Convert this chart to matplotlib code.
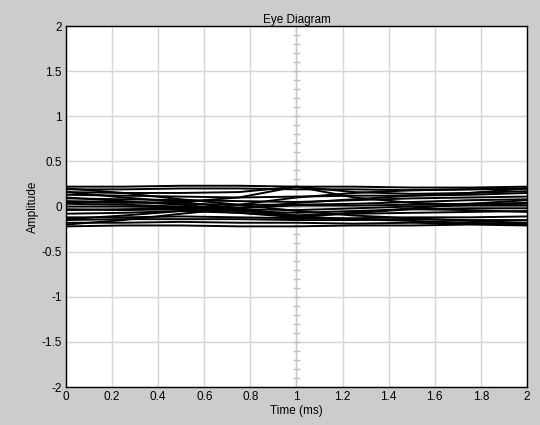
import matplotlib
matplotlib.use("Agg")
import matplotlib.pyplot as plt
import numpy as np

# sample instants (ms) shared by every trace
t_ms = [0.0, 0.25, 0.5, 0.75, 1.0, 1.25, 1.5, 1.75, 2.0]

# overlaid symbol traces (amplitude at each sample instant)
traces = [
    [0.22, 0.22, 0.23, 0.23, 0.22, 0.22, 0.21, 0.21, 0.22],
    [0.19, 0.19, 0.20, 0.20, 0.19, 0.19, 0.18, 0.19, 0.20],
    [0.16, 0.15, 0.15, 0.16, 0.22, 0.16, 0.14, 0.15, 0.17],
    [0.13, 0.12, 0.11, 0.10, 0.11, 0.12, 0.12, 0.13, 0.15],
    [0.09, 0.08, 0.07, 0.06, 0.05, 0.07, 0.09, 0.10, 0.11],
    [0.06, 0.05, 0.03, 0.02, 0.02, 0.03, 0.05, 0.07, 0.08],
    [0.03, 0.02, 0.00, -0.01, 0.01, 0.01, 0.02, 0.03, 0.04],
    [0.00, 0.00, -0.01, -0.03, -0.04, -0.02, 0.00, 0.01, 0.01],
    [-0.04, -0.03, -0.02, -0.05, -0.07, -0.05, -0.03, -0.02, -0.02],
    [-0.08, -0.07, -0.05, -0.07, -0.10, -0.08, -0.07, -0.06, -0.05],
    [-0.12, -0.12, -0.11, -0.12, -0.13, -0.13, -0.12, -0.12, -0.11],
    [-0.15, -0.14, -0.14, -0.14, -0.15, -0.15, -0.14, -0.15, -0.15],
    [-0.18, -0.18, -0.17, -0.18, -0.18, -0.19, -0.18, -0.19, -0.18],
    [-0.22, -0.21, -0.21, -0.22, -0.22, -0.21, -0.21, -0.20, -0.21],
    [0.20, 0.15, 0.08, 0.02, -0.05, -0.10, -0.13, -0.16, -0.18],
    [-0.20, -0.15, -0.08, -0.02, 0.04, 0.08, 0.12, 0.15, 0.20],
    [0.16, 0.10, 0.05, -0.02, -0.10, -0.07, -0.02, 0.03, 0.07],
    [-0.14, -0.10, -0.05, 0.02, 0.10, 0.15, 0.18, 0.19, 0.20],
    [0.10, 0.06, 0.02, -0.04, -0.11, -0.14, -0.16, -0.18, -0.20],
    [0.05, 0.04, 0.05, 0.10, 0.22, 0.10, 0.04, 0.02, 0.03],
    [-0.03, -0.04, -0.03, -0.07, -0.12, -0.07, -0.03, -0.04, -0.06],
]

x_ticks = [0, 0.2, 0.4, 0.6, 0.8, 1, 1.2, 1.4, 1.6, 1.8, 2]
x_tick_labels = ["0", "0.2", "0.4", "0.6", "0.8", "1", "1.2", "1.4", "1.6", "1.8", "2"]
y_ticks = [-2, -1.5, -1, -0.5, 0, 0.5, 1, 1.5, 2]
y_tick_labels = ["-2", "-1.5", "-1", "-0.5", "0", "0.5", "1", "1.5", "2"]

plt.rcParams["font.family"] = ["Liberation Sans", "DejaVu Sans"]

fig = plt.figure(figsize=(5.4, 4.25), dpi=100, facecolor="#cccccc")
ax = fig.add_axes([0.1222, 0.0894, 0.8537, 0.8494])
ax.set_facecolor("white")

# grid
ax.set_xticks(x_ticks)
ax.set_xticklabels(x_tick_labels, fontsize=8.5)
ax.set_yticks(y_ticks)
ax.set_yticklabels(y_tick_labels, fontsize=8.5)
ax.grid(True, color="#d6d6d6", linewidth=1.0)
ax.set_axisbelow(True)
ax.tick_params(length=0, pad=3, colors="black")

# centre reference line with small graduation marks
ax.axvline(1.0, color="#c8c8c8", linewidth=1.0, zorder=1)
marks = np.arange(-2.0, 2.0001, 0.1)
ax.hlines(marks, 0.986, 1.014, color="#c0c0c0", linewidth=1.0, zorder=1)

for tr in traces:
    ax.plot(t_ms, tr, color="black", linewidth=1.4, solid_capstyle="butt", zorder=3)

ax.set_xlim(0, 2)
ax.set_ylim(-2, 2)
for s in ax.spines.values():
    s.set_color("black")
    s.set_linewidth(1.0)

ax.set_title("Eye Diagram", fontsize=8.5, pad=2)
ax.set_xlabel("Time (ms)", fontsize=8.5, labelpad=1)
ax.set_ylabel("Amplitude", fontsize=8.5, labelpad=2)

fig.savefig("out.png", dpi=100, facecolor=fig.get_facecolor())
